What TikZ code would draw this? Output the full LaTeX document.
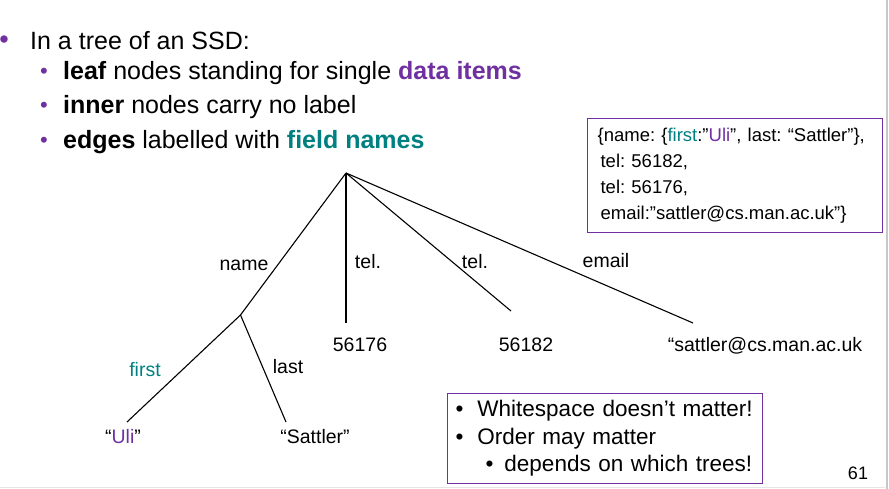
\documentclass[tikz,border=0pt]{standalone}
\usepackage{fontspec}
\setmainfont{Liberation Sans}
\definecolor{itempurple}{RGB}{112,48,160}
\definecolor{fieldteal}{RGB}{0,128,128}
\usetikzlibrary{positioning}
\frenchspacing

\begin{document}
\begin{tikzpicture}[x=1pt, y=-1pt,
  bul/.style={text=itempurple, inner sep=0pt},
  txt/.style={anchor=west, inner sep=0pt, font=\fontsize{25}{30}\selectfont},
  lbl/.style={inner sep=0pt, font=\fontsize{19.5}{24}\selectfont},
  edge/.style={line width=1.1pt},
  infobox/.style={draw=itempurple, line width=1.2pt, align=left, anchor=north west}
]
  \useasboundingbox (0,0) rectangle (889,489);
  \draw[black!22, line width=2pt] (887,0) -- (887,489);
  \draw[black!10, line width=1.5pt] (0,487.5) -- (885,487.5);

  % bullet list
  \node[bul, font=\fontsize{27}{30}\selectfont] (b0) at (4,42) {•};
  \node[txt] (t0) at (30,41) {In a tree of an SSD:};
  \node[bul, font=\fontsize{22}{30}\selectfont] (b1) at (44,73) {•};
  \node[txt] (t1) at (63,73) {\textbf{leaf} nodes standing for single \textbf{\color{itempurple}data items}};
  \node[bul, font=\fontsize{22}{30}\selectfont] (b2) at (44,107) {•};
  \node[txt] (t2) at (63,107) {\textbf{inner} nodes carry no label};
  \node[bul, font=\fontsize{22}{30}\selectfont] (b3) at (44,142) {•};
  \node[txt] (t3) at (63,142) {\textbf{edges} labelled with \textbf{\color{fieldteal}field names}};

  % tree
  \coordinate (root) at (346,173);
  \coordinate (nm) at (240.5,315);
  \coordinate (uliEnd) at (127,422);
  \coordinate (satEnd) at (286,422);
  \coordinate (telAEnd) at (346,323);
  \coordinate (telBEnd) at (511,311);
  \coordinate (mailEnd) at (693,323);

  \node[lbl] (uli) at (123,437) {“{\color{itempurple}Uli}”};
  \node[lbl] (sat) at (315,437) {“Sattler”};
  \node[lbl] (telA) at (360,345) {56176};
  \node[lbl] (telB) at (526,345) {56182};
  \node[lbl] (mail) at (765,346) {“sattler@cs.man.ac.uk};

  \draw[edge] (root) -- (nm);
  \draw[edge] (nm) -- (uliEnd);
  \draw[edge] (nm) -- (satEnd);
  \draw[edge] (root) -- (telAEnd);
  \draw[edge] (root) -- (telBEnd);
  \draw[edge] (root) -- (mailEnd);

  \node[lbl] (lName) at (244,265) {name};
  \node[lbl] (lTelA) at (368,262) {tel.};
  \node[lbl] (lTelB) at (475,262) {tel.};
  \node[lbl] (lMail) at (606,261) {email};
  \node[lbl, text=fieldteal] (lFirst) at (145,370) {first};
  \node[lbl] (lLast) at (288,367) {last};

  % boxes
  \node[infobox, text width=275, inner xsep=10, minimum height=114,
        font=\fontsize{18.5}{26}\selectfont] (json) at (587,118)
    {\{name: \{{\color{fieldteal}first}:”{\color{itempurple}Uli}”, last: “Sattler”\},\\
     \hspace{3pt}tel: 56182,\\
     \hspace{3pt}tel: 56176,\\
     \hspace{3pt}email:”sattler@cs.man.ac.uk”\}};
  \node[infobox, text width=305, inner xsep=5, minimum height=90,
        font=\fontsize{22.5}{27.5}\selectfont] (notes) at (447,393)
    {\hspace{3pt}\textbullet\hspace{14pt}Whitespace doesn’t matter!\\
     \hspace{3pt}\textbullet\hspace{14pt}Order may matter\\
     \hspace{33pt}\textbullet\hspace{11pt}depends on which trees!};

  \node[lbl, font=\fontsize{18}{22}\selectfont] (page) at (858,473) {61};
\end{tikzpicture}
\end{document}
